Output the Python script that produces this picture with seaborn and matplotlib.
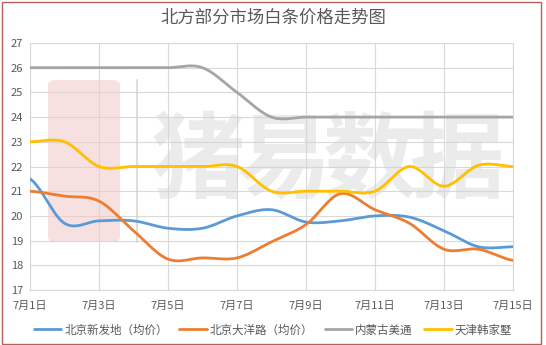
import numpy as np
import pandas as pd
import matplotlib
matplotlib.use("Agg")
import matplotlib.pyplot as plt
import seaborn as sns
from matplotlib.patches import FancyBboxPatch, Rectangle
from matplotlib.lines import Line2D

# ---- data ----
days = list(range(1, 16))
day_labels = [f"7月{d}日" for d in days]
series_names = ["北京新发地（均价）", "北京大洋路（均价）", "内蒙古美通", "天津韩家墅"]
xinfadi = [21.5, 19.7, 19.8, 19.8, 19.5, 19.5, 20.0, 20.25, 19.75, 19.8, 20.0, 19.95, 19.4, 18.75, 18.75]
dayanglu = [21.0, 20.8, 20.6, 19.4, 18.25, 18.3, 18.3, 18.95, 19.65, 20.9, 20.25, 19.7, 18.65, 18.65, 18.2]
neimenggu = [26.0, 26.0, 26.0, 26.0, 26.0, 26.0, 25.0, 24.0, 24.0, 24.0, 24.0, 24.0, 24.0, 24.0, 24.0]
tianjin = [23.0, 23.0, 22.0, 22.0, 22.0, 22.0, 22.0, 21.0, 21.0, 21.0, 21.0, 22.0, 21.2, 22.05, 22.0]
colors = ["#5B9BD5", "#ED7D31", "#A5A5A5", "#FFC000"]


def smooth(x, y, n=24):
    """Cubic Hermite (Catmull-Rom style) smoothing like Excel's smoothed line."""
    x = np.asarray(x, float)
    y = np.asarray(y, float)
    k = len(y)
    m = np.empty(k)
    m[1:-1] = (y[2:] - y[:-2]) / 2.0
    m[0] = (y[1] - y[0]) / 2.0
    m[-1] = (y[-1] - y[-2]) / 2.0
    xs, ys = [], []
    for i in range(k - 1):
        t = np.linspace(0, 1, n, endpoint=(i == k - 2))
        h00 = 2 * t**3 - 3 * t**2 + 1
        h10 = t**3 - 2 * t**2 + t
        h01 = -2 * t**3 + 3 * t**2
        h11 = t**3 - t**2
        xs.append(x[i] + t * (x[i + 1] - x[i]))
        ys.append(h00 * y[i] + h10 * m[i] + h01 * y[i + 1] + h11 * m[i + 1])
    return np.concatenate(xs), np.concatenate(ys)


frames = []
for name, vals in zip(series_names, [xinfadi, dayanglu, neimenggu, tianjin]):
    sx, sy = smooth(days, vals)
    frames.append(pd.DataFrame({"day": sx, "price": sy, "series": name}))
df = pd.concat(frames, ignore_index=True)

sns.set_theme(style="white")
plt.rcParams["font.family"] = ["Noto Sans CJK SC", "DejaVu Sans"]
plt.rcParams["axes.unicode_minus"] = False

W, H = 546, 345
fig = plt.figure(figsize=(W / 100, H / 100), dpi=100)
fig.patch.set_facecolor("white")
ax = fig.add_axes([30 / W, 1 - 290 / H, (513 - 30) / W, (290 - 43) / H])
ax.set_facecolor("white")

sns.lineplot(data=df, x="day", y="price", hue="series", hue_order=series_names,
             palette=colors, linewidth=2.0, sort=False, estimator=None,
             legend=False, ax=ax, zorder=3)

ax.set_xlim(1, 15)
ax.set_ylim(17, 27)
ax.set_xticks(days[::2])
ax.set_xticklabels(day_labels[::2])
ax.set_yticks(range(17, 28))
ax.grid(True, color="#D9D9D9", linewidth=0.8)
ax.set_axisbelow(True)
for s in ax.spines.values():
    s.set_visible(True)
    s.set_color("#D9D9D9")
    s.set_linewidth(0.8)
ax.tick_params(axis="both", length=0, colors="#595959", labelsize=8)
ax.tick_params(axis="x", pad=8)
ax.tick_params(axis="y", pad=5)
ax.set_xlabel("")
ax.set_ylabel("")

# ---- watermark ----
tf = fig.transFigure
logo = FancyBboxPatch((48 / W, 1 - 242 / H), 72 / W, 162 / H,
                      boxstyle="round,pad=0,rounding_size=0.015",
                      transform=tf, facecolor="#F0C8C8", edgecolor="none",
                      alpha=0.55, zorder=1)
ax.add_patch(logo)
ax.add_line(Line2D([137 / W, 137 / W], [1 - 80 / H, 1 - 242 / H], transform=tf,
                   color="#D0D0D0", linewidth=1.5, alpha=0.7, zorder=1))
for i, ch in enumerate("猪易数据"):
    ax.text((155 + 86 * (i + 0.5)) / W, 1 - 163 / H, ch, transform=tf,
            fontsize=68, fontweight="bold", color="#D4D4D4", alpha=0.45,
            ha="center", va="center", zorder=1)

# ---- title ----
fig.text(0.5, 1 - 18 / H, "北方部分市场白条价格走势图", ha="center", va="center",
         fontsize=12.5, color="#595959")

# ---- legend ----
handles = [Line2D([], [], color=c, linewidth=2.0) for c in colors]
fig.legend(handles, series_names, loc="center", bbox_to_anchor=(0.5, 1 - 330 / H),
           ncol=4, frameon=False, fontsize=8.3, handlelength=2.4, handletextpad=0.25,
           columnspacing=1.0, labelcolor="#595959")

# ---- border ----
fig.add_artist(Rectangle((2 / W, 1 / H), (541 - 2) / W, (343 - 1) / H, transform=tf,
                         fill=False, edgecolor="#B5615A", linewidth=1.0))

fig.savefig("out.png", dpi=100, facecolor="white")
